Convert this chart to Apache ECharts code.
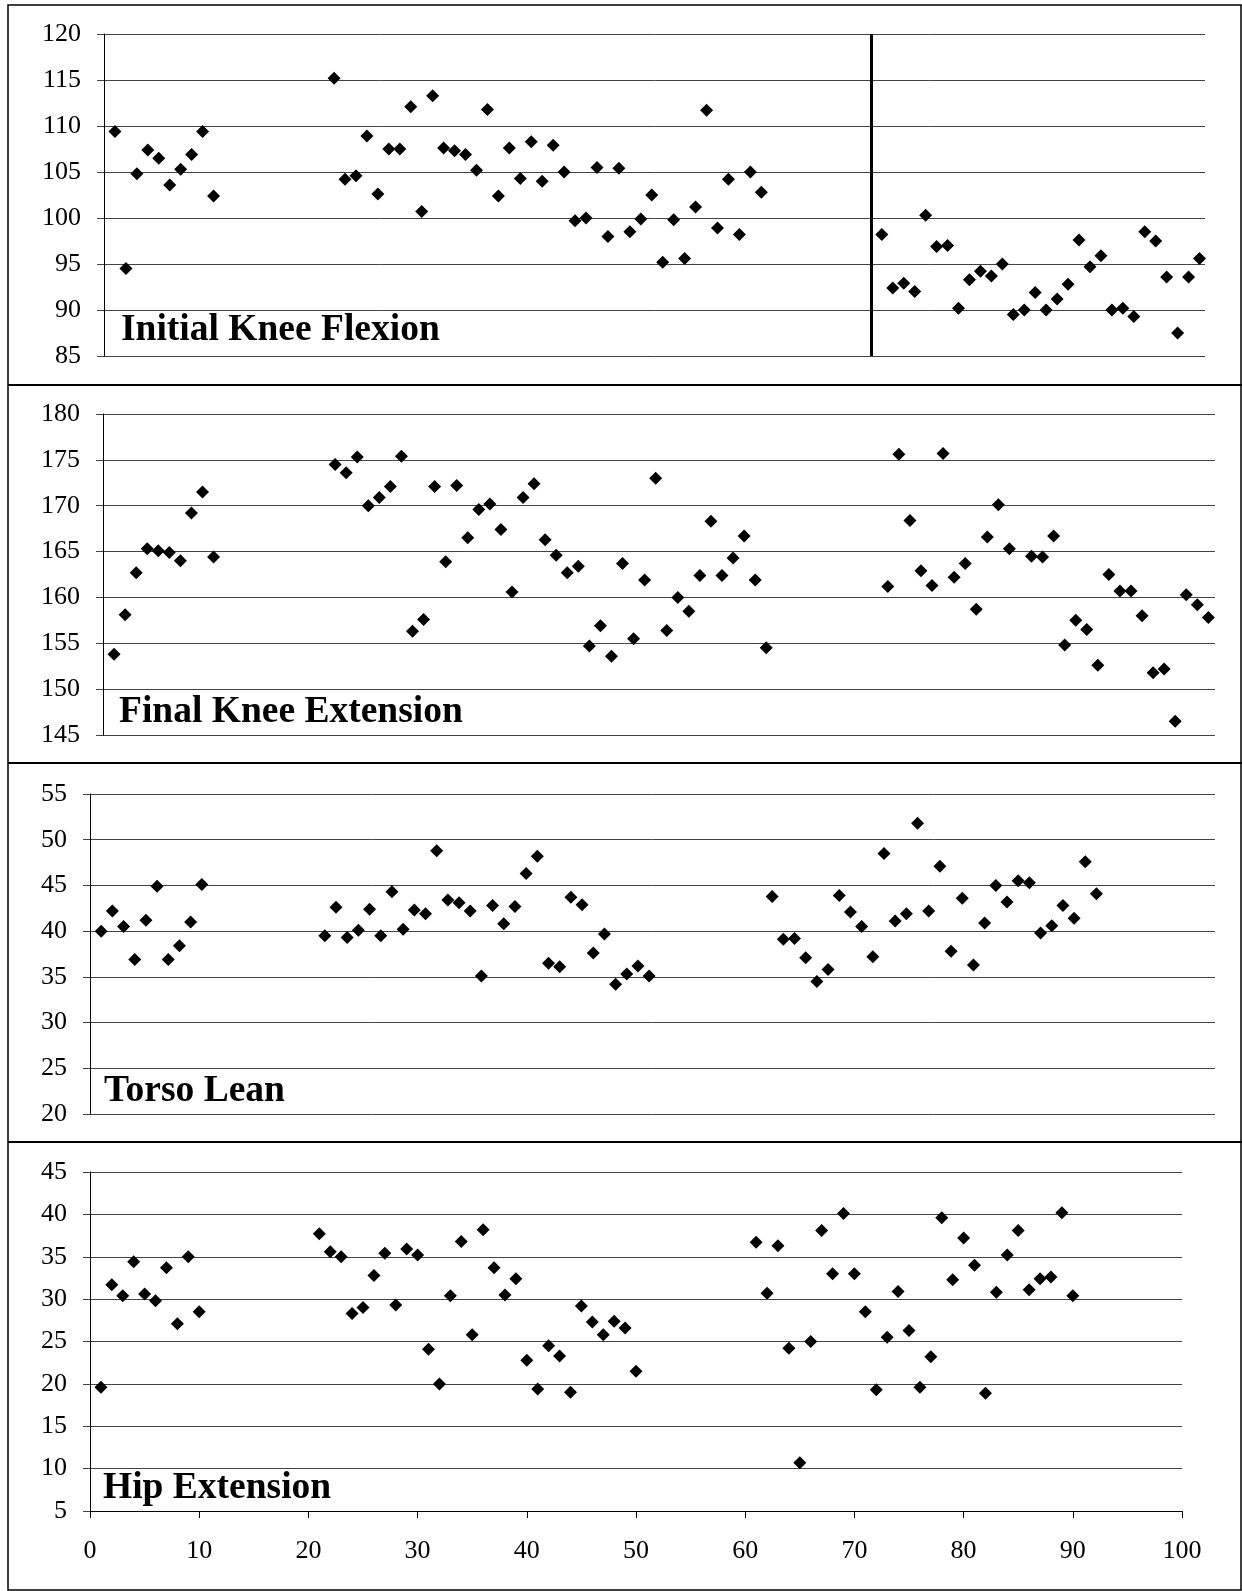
<!DOCTYPE html>
<html>
<head>
<meta charset="utf-8">
<script src="https://cdn.jsdelivr.net/npm/echarts@6/dist/echarts.min.js"></script>
<style>
html,body{margin:0;padding:0;background:#fff;}
#chart{width:1242px;height:1591px;}
</style>
</head>
<body>
<div id="chart"></div>
<script>
// ---------- data ----------
const panelTitles = ['Initial Knee Flexion', 'Final Knee Extension', 'Torso Lean', 'Hip Extension'];

const trialsKneeFlex = [1,2,3,4,5,6,7,8,9,10,
  21,22,23,24,25,26,27,28,29,30,31,32,33,34,35,36,37,38,39,40,
  41,42,43,44,45,46,47,48,49,50,51,52,53,54,55,56,57,58,59,60,
  71,72,73,74,75,76,77,78,79,80,81,82,83,84,85,86,87,88,89,90,
  91,92,93,94,95,96,97,98,99,100];
const kneeFlexion = [109.4, 94.5, 104.8, 107.4, 106.5, 103.6, 105.3, 106.9, 109.4, 102.4,
  115.2, 104.2, 104.6, 108.9, 102.6, 107.5, 107.5, 112.1, 100.7, 113.3,
  107.6, 107.3, 106.9, 105.2, 111.8, 102.4, 107.6, 104.3, 108.3, 104.0,
  107.9, 105.0, 99.7, 100.0, 105.5, 98.0, 105.4, 98.5, 99.9, 102.5,
  95.2, 99.8, 95.6, 101.2, 111.7, 98.9, 104.2, 98.2, 105.0, 102.8,
  98.2, 92.4, 92.9, 92.0, 100.3, 96.9, 97.0, 90.2, 93.3, 94.2,
  93.7, 95.0, 89.5, 90.0, 91.9, 90.0, 91.2, 92.8, 97.6, 94.7,
  95.9, 90.0, 90.2, 89.3, 98.5, 97.5, 93.6, 87.5, 93.6, 95.6];
const dividerTrial = 70;

const trialsKneeExt = [1,2,3,4,5,6,7,8,9,10,
  21,22,23,24,25,26,27,28,29,30,31,32,33,34,35,36,37,38,39,40,
  41,42,43,44,45,46,47,48,49,50,51,52,53,54,55,56,57,58,59,60,
  71,72,73,74,75,76,77,78,79,80,81,82,84,85,86,87,88,89,90,
  91,92,93,94,95,96,97,98,99,100];
const kneeExtension = [153.8, 158.1, 162.7, 165.3, 165.1, 164.9, 164.0, 169.2, 171.5, 164.4,
  174.5, 173.6, 175.3, 170.0, 170.9, 172.1, 175.4, 156.3, 157.6, 172.1,
  163.9, 172.2, 166.5, 169.6, 170.2, 167.4, 160.6, 170.9, 172.4, 166.3,
  164.6, 162.7, 163.4, 154.7, 156.9, 153.6, 163.7, 155.5, 161.9, 173.0,
  156.4, 160.0, 158.5, 162.4, 168.3, 162.4, 164.3, 166.7, 161.9, 154.5,
  161.2, 175.6, 168.4, 162.9, 161.3, 175.7, 162.2, 163.7, 158.7, 166.6, 170.1, 165.3,
  164.5, 164.4, 166.7, 154.8, 157.5, 156.5, 152.6,
  162.5, 160.7, 160.7, 158.0, 151.8, 152.2, 146.5, 160.3, 159.2, 157.8];

const trialsTrunkHip = [1,2,3,4,5,6,7,8,9,10,
  21,22,23,24,25,26,27,28,29,30,31,32,33,34,35,36,37,38,39,40,
  41,42,43,44,45,46,47,48,49,50,
  61,62,63,64,65,66,67,68,69,70,71,72,73,74,75,76,77,78,79,80,
  81,82,83,84,85,86,87,88,89,90];
const torsoLean = [40.0, 42.2, 40.5, 36.9, 41.2, 44.9, 36.9, 38.4, 41.0, 45.1,
  39.5, 42.6, 39.3, 40.1, 42.4, 39.5, 44.3, 40.2, 42.3, 41.9,
  48.8, 43.4, 43.1, 42.2, 35.1, 42.8, 40.8, 42.7, 46.3, 48.2,
  36.5, 36.1, 43.7, 42.9, 37.6, 39.7, 34.2, 35.3, 36.2, 35.1,
  43.8, 39.1, 39.2, 37.1, 34.5, 35.8, 43.9, 42.1, 40.5, 37.2,
  48.5, 41.1, 41.9, 51.8, 42.2, 47.1, 37.8, 43.6, 36.3, 40.9,
  45.0, 43.2, 45.5, 45.3, 39.8, 40.6, 42.8, 41.4, 47.6, 44.1];
const hipExtension = [19.6, 31.7, 30.4, 34.4, 30.6, 29.8, 33.7, 27.1, 35.0, 28.5,
  37.7, 35.6, 35.0, 28.3, 29.0, 32.8, 35.4, 29.3, 35.9, 35.2,
  24.1, 20.0, 30.4, 36.8, 25.8, 38.2, 33.7, 30.5, 32.4, 22.8,
  19.4, 24.5, 23.3, 19.0, 29.2, 27.3, 25.8, 27.4, 26.6, 21.5,
  36.7, 30.7, 36.3, 24.2, 10.7, 25.0, 38.1, 33.0, 40.1, 33.0,
  28.5, 19.3, 25.5, 30.9, 26.3, 19.6, 23.2, 39.6, 32.3, 37.2,
  34.0, 18.9, 30.8, 35.2, 38.1, 31.1, 32.4, 32.6, 40.2, 30.4];

const yRanges = [[85, 120], [145, 180], [20, 55], [5, 45]];
const xTickLabels = [0, 10, 20, 30, 40, 50, 60, 70, 80, 90, 100];

// ---------- chart ----------
const chart = echarts.init(document.getElementById('chart'), null, {renderer: 'canvas'});
const SERIF = '"Liberation Serif", "Times New Roman", serif';
const pair = (xs, ys) => xs.map((x, i) => [x, ys[i]]);

const grids = [
  {left: 104, top: 34, width: 1101, height: 322},
  {left: 103, top: 414, width: 1112, height: 321},
  {left: 90, top: 794, width: 1125, height: 320},
  {left: 90, top: 1172, width: 1092, height: 339}
];
const xMax = [100.5, 100.6, 100.6, 100];

const yAxes = yRanges.map((r, i) => ({
  type: 'value', gridIndex: i, min: r[0], max: r[1], interval: 5,
  axisLine: {show: true, lineStyle: {color: '#000', width: 1}},
  axisTick: {show: true, length: 7, lineStyle: {color: '#444', width: 1}},
  axisLabel: {fontFamily: SERIF, fontSize: 26, color: '#000', margin: 23},
  splitLine: {show: true, showMinLine: true, showMaxLine: true, lineStyle: {color: '#444', width: 1}}
}));

const xAxes = grids.map((g, i) => {
  if (i < 3) {
    return {type: 'value', gridIndex: i, min: 0, max: xMax[i], show: false};
  }
  return {
    type: 'value', gridIndex: i, min: xTickLabels[0], max: xTickLabels[xTickLabels.length - 1],
    interval: xTickLabels[1] - xTickLabels[0],
    axisLine: {show: true, lineStyle: {color: '#000', width: 1}},
    axisTick: {show: true, length: 7, lineStyle: {color: '#000', width: 1}},
    axisLabel: {fontFamily: SERIF, fontSize: 26, color: '#000', margin: 27},
    splitLine: {show: false}
  };
});

const marker = {symbol: 'diamond', symbolSize: 13, itemStyle: {color: '#000', opacity: 1}};
const series = [
  Object.assign({type: 'scatter', xAxisIndex: 0, yAxisIndex: 0, data: pair(trialsKneeFlex, kneeFlexion),
    markLine: {silent: true, symbol: 'none', label: {show: false},
      lineStyle: {color: '#000', width: 3, type: 'solid', opacity: 1}, data: [{xAxis: dividerTrial}]}}, marker),
  Object.assign({type: 'scatter', xAxisIndex: 1, yAxisIndex: 1, data: pair(trialsKneeExt, kneeExtension)}, marker),
  Object.assign({type: 'scatter', xAxisIndex: 2, yAxisIndex: 2, data: pair(trialsTrunkHip, torsoLean)}, marker),
  Object.assign({type: 'scatter', xAxisIndex: 3, yAxisIndex: 3, data: pair(trialsTrunkHip, hipExtension)}, marker)
];

const titlePos = [[121, 330], [119, 712], [104, 1091], [103, 1488]];
const graphic = [
  {type: 'rect', shape: {x: 8, y: 5, width: 1233, height: 1585}, style: {fill: 'none', stroke: '#000', lineWidth: 1.5}, z: 100},
  {type: 'line', shape: {x1: 8, y1: 385, x2: 1242, y2: 385}, style: {stroke: '#000', lineWidth: 2}, z: 100},
  {type: 'line', shape: {x1: 8, y1: 763, x2: 1242, y2: 763}, style: {stroke: '#000', lineWidth: 2}, z: 100},
  {type: 'line', shape: {x1: 8, y1: 1142, x2: 1242, y2: 1142}, style: {stroke: '#000', lineWidth: 2}, z: 100}
].concat(panelTitles.map((t, i) => ({
  type: 'text', x: titlePos[i][0], y: titlePos[i][1], z: 100,
  style: {text: t, font: 'bold 37.5px ' + SERIF, fill: '#000', align: 'left', verticalAlign: 'middle'}
})));

chart.setOption({
  animation: false,
  backgroundColor: '#fff',
  grid: grids,
  xAxis: xAxes,
  yAxis: yAxes,
  series: series,
  graphic: graphic
});
</script>
</body>
</html>
